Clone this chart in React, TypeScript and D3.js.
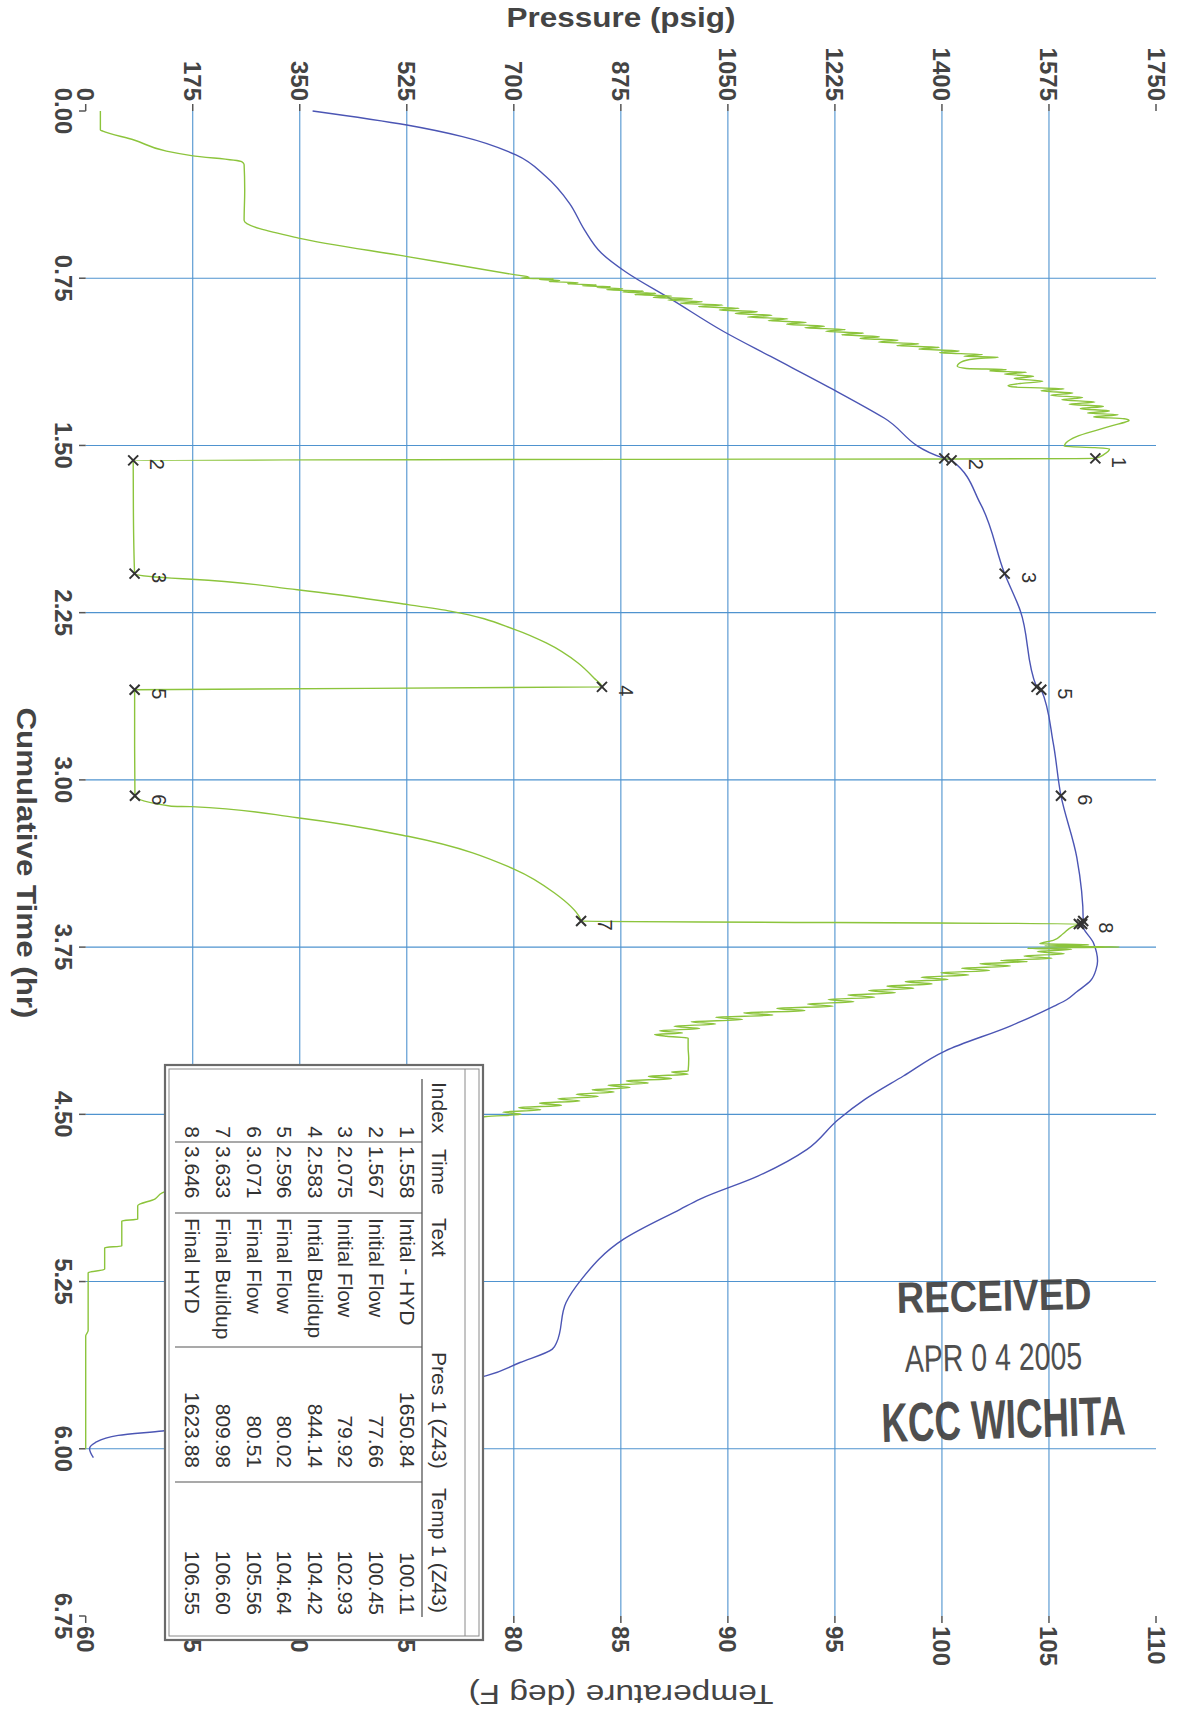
import React from 'react';
import * as d3 from 'd3';

// ---------- data ----------
const pressureTicks = [0, 175, 350, 525, 700, 875, 1050, 1225, 1400, 1575, 1750];
const tempTicks = [60, 65, 70, 75, 80, 85, 90, 95, 100, 105, 110];
const timeTicks = [0, 0.75, 1.5, 2.25, 3, 3.75, 4.5, 5.25, 6, 6.75];

// [cumulative time (hr), pressure (psig)]
const pressureSeries: [number, number][] = [
  [0, 24], [0.085, 24], [0.09, 28], [0.13, 79], [0.18, 132], [0.2, 173], [0.227, 255], [0.24, 259],
  [0.355, 260], [0.49, 259], [0.57, 348], [0.653, 526], [0.735, 703],
  [0.745, 725], [0.75, 712], [0.752, 765], [0.756, 742], [0.76, 775], [0.765, 758], [0.77, 805], [0.775, 788],
  [0.78, 835], [0.784, 812], [0.788, 858], [0.792, 836], [0.797, 878], [0.802, 852], [0.808, 912], [0.812, 878],
  [0.818, 932], [0.823, 898], [0.83, 958], [0.836, 928], [0.842, 992], [0.848, 952], [0.855, 1008], [0.862, 972],
  [0.87, 1042], [0.877, 1002], [0.885, 1068], [0.892, 1036], [0.9, 1098], [0.908, 1062], [0.916, 1122], [0.924, 1082],
  [0.932, 1148], [0.94, 1116], [0.948, 1178], [0.956, 1146], [0.965, 1208], [0.972, 1176], [0.98, 1242], [0.988, 1210],
  [0.996, 1272], [1.004, 1236], [1.012, 1298], [1.02, 1266], [1.028, 1328], [1.036, 1296], [1.044, 1362], [1.052, 1326],
  [1.06, 1396], [1.068, 1362], [1.076, 1428], [1.084, 1396], [1.092, 1466], [1.1, 1436], [1.104, 1492], [1.112, 1452],
  [1.125, 1432], [1.145, 1425], [1.155, 1440], [1.16, 1505], [1.166, 1478], [1.172, 1538], [1.18, 1502], [1.19, 1550],
  [1.2, 1518], [1.212, 1565], [1.222, 1528], [1.232, 1508], [1.238, 1520], [1.246, 1600], [1.255, 1562], [1.265, 1614],
  [1.275, 1578], [1.285, 1630], [1.295, 1596], [1.305, 1650], [1.315, 1608], [1.325, 1664], [1.335, 1626], [1.345, 1674],
  [1.355, 1638], [1.362, 1688], [1.372, 1648], [1.38, 1698], [1.388, 1706], [1.395, 1700], [1.41, 1680], [1.43, 1655],
  [1.46, 1620], [1.488, 1603], [1.504, 1600], [1.51, 1650], [1.515, 1674], [1.54, 1665], [1.558, 1650.84],
  [1.567, 77.66], [1.8, 78], [2.075, 79.92],
  [2.095, 140], [2.1, 173], [2.147, 346], [2.214, 527], [2.244, 598], [2.326, 702], [2.386, 753], [2.476, 805],
  [2.543, 831], [2.583, 844.14],
  [2.596, 80.02], [2.85, 80], [3.071, 80.51],
  [3.118, 140], [3.12, 173], [3.17, 346], [3.253, 527], [3.402, 702], [3.506, 766], [3.619, 808], [3.633, 809.98],
  [3.646, 1623.88], [3.66, 1612], [3.69, 1598], [3.72, 1582], [3.735, 1560], [3.74, 1640], [3.745, 1568],
  [3.75, 1690], [3.755, 1540], [3.76, 1612], [3.77, 1556], [3.78, 1600], [3.79, 1534], [3.8, 1580], [3.81, 1496],
  [3.815, 1540], [3.825, 1462], [3.835, 1512], [3.845, 1432], [3.855, 1478], [3.865, 1398], [3.875, 1444],
  [3.885, 1366], [3.895, 1410], [3.905, 1340], [3.915, 1384], [3.925, 1310], [3.935, 1354], [3.945, 1280],
  [3.955, 1324], [3.965, 1246], [3.975, 1290], [3.985, 1214], [3.995, 1256], [4.005, 1180], [4.015, 1222],
  [4.025, 1130], [4.035, 1176], [4.045, 1076], [4.055, 1124], [4.065, 1030], [4.075, 1074], [4.085, 990],
  [4.095, 1030], [4.105, 962], [4.115, 1004], [4.125, 938], [4.135, 976], [4.142, 930], [4.15, 950], [4.158, 985],
  [4.2, 985], [4.25, 986], [4.306, 985], [4.31, 958], [4.32, 985], [4.33, 920], [4.34, 958], [4.35, 884],
  [4.36, 920], [4.37, 854], [4.38, 890], [4.39, 828], [4.4, 864], [4.41, 802], [4.42, 838], [4.43, 772],
  [4.44, 808], [4.45, 742], [4.46, 778], [4.47, 708], [4.48, 744], [4.49, 682], [4.5, 712], [4.51, 655],
  [4.6, 520], [4.7, 360], [4.8, 200], [4.852, 125], [4.88, 113], [4.91, 85], [4.933, 85], [4.97, 85],
  [4.978, 59], [5.09, 59], [5.098, 31], [5.195, 31], [5.21, 4], [5.47, 4], [5.494, 0], [6.0, 0]
];

// [cumulative time (hr), temperature (deg F)]
const temperatureSeries: [number, number][] = [
  [0, 70.6], [0.063, 75.0], [0.115, 77.6], [0.197, 80.1], [0.294, 81.5], [0.414, 82.6], [0.533, 83.3],
  [0.638, 84.1], [0.72, 85.2], [0.847, 87.4], [0.989, 89.8], [1.101, 92.0], [1.243, 94.8], [1.377, 97.3],
  [1.558, 100.11], [1.567, 100.45], [1.762, 101.8], [2.075, 102.93], [2.241, 103.66], [2.583, 104.42],
  [2.596, 104.64], [2.835, 105.2], [3.071, 105.56], [3.348, 106.3], [3.633, 106.6], [3.646, 106.55],
  [3.732, 107.08], [3.812, 107.27], [3.85, 107.2], [3.9, 106.95], [3.95, 106.3], [3.985, 105.84],
  [4.015, 105.24], [4.104, 103.19], [4.216, 100.14], [4.328, 98.2], [4.433, 96.4], [4.523, 95.16],
  [4.657, 93.7], [4.777, 91.4], [4.88, 88.7], [4.926, 87.77], [5.06, 85.13], [5.24, 83.16], [5.344, 82.44],
  [5.523, 82.0], [5.553, 81.8], [5.613, 80.29], [5.673, 78.69], [5.75, 74], [5.85, 68], [5.92, 63.58],
  [5.94, 61.52], [5.972, 60.45], [6.0, 60.18], [6.04, 60.36]
];

const markIndex = [1, 2, 3, 4, 5, 6, 7, 8];
const markTime = [1.558, 1.567, 2.075, 2.583, 2.596, 3.071, 3.633, 3.646];
const markText = ['Intial - HYD', 'Initial Flow', 'Initial Flow', 'Intial Buildup', 'Final Flow', 'Final Flow', 'Final Buildup', 'Final HYD'];
const markPres = [1650.84, 77.66, 79.92, 844.14, 80.02, 80.51, 809.98, 1623.88];
const markTemp = [100.11, 100.45, 102.93, 104.42, 104.64, 105.56, 106.60, 106.55];
const presLabelled = [1, 2, 3, 4, 5, 6, 7];
const tempLabelled = [2, 3, 5, 6, 8];
const tableHeaders = ['Index', 'Time', 'Text', 'Pres 1 (Z43)', 'Temp 1 (Z43)'];

// ---------- layout ----------
const W = 1185, H = 1711;
const FONT = "'Liberation Sans', Arial, Helvetica, sans-serif";
const GRID = '#4f93cf';
const GREEN = '#8cc43c';
const BLUE = '#4b55b4';

const pX = d3.scaleLinear().domain([0, 1750]).range([85.7, 1156]);
const tempX = d3.scaleLinear().domain([60, 110]).range([85.7, 1156]);
const tY = d3.scaleLinear().domain([0, 6.75]).range([111, 1616]);

const presLine = d3.line<[number, number]>().x(d => pX(d[1])).y(d => tY(d[0])).curve(d3.curveMonotoneY);
const tempLine = d3.line<[number, number]>().x(d => tempX(d[1])).y(d => tY(d[0])).curve(d3.curveMonotoneY);

const f2 = d3.format('.2f');
const f3 = d3.format('.3f');

const XMark = ({ x, y }: { x: number; y: number }) => (
  <path d={`M${x - 5},${y - 5}L${x + 5},${y + 5}M${x - 5},${y + 5}L${x + 5},${y - 5}`} stroke="#333" strokeWidth={2} fill="none" />
);

export default function App() {
  const innerMinX = pX(0), innerMaxX = pX(1750);
  const tTop = tY(0), tBot = tY(6.75);

  // table geometry (local, rotated frame)
  const tblRight = 483, tblTop = 1065, tblW = 575, tblH = 318;
  const colSep = [77, 148, 282, 417];
  const headX = [17, 84, 153, 287, 423];
  const rowY = (i: number) => 76 + i * 30.6;

  return (
    <svg width={W} height={H} style={{ position: 'absolute', left: 0, top: 0, background: '#fff' }} fontFamily={FONT}>
      <rect x={0} y={0} width={W} height={H} fill="#fff" />

      {/* vertical grid (pressure) */}
      {pressureTicks.map(p => (
        <g key={'pg' + p}>
          {p !== 0 && p !== 1750 && (
            <line x1={pX(p)} x2={pX(p)} y1={tTop} y2={tBot} stroke={GRID} strokeWidth={1.1} />
          )}
          <line x1={pX(p)} x2={pX(p)} y1={104} y2={tTop} stroke="#555" strokeWidth={1.5} />
          <text x={pX(p)} y={101} transform={`rotate(90,${pX(p)},101)`} textAnchor="end" dominantBaseline="central"
            fontSize={24} fontWeight="bold" fill="#444">{p}</text>
        </g>
      ))}
      {/* temperature ticks (bottom) */}
      {tempTicks.map(t => (
        <g key={'tt' + t}>
          <line x1={tempX(t)} x2={tempX(t)} y1={tBot} y2={1623} stroke="#555" strokeWidth={1.5} />
          <text x={tempX(t)} y={1626} transform={`rotate(90,${tempX(t)},1626)`} textAnchor="start" dominantBaseline="central"
            fontSize={24} fontWeight="bold" fill="#444">{t}</text>
        </g>
      ))}
      {/* horizontal grid (time) */}
      {timeTicks.map(t => (
        <g key={'tg' + t}>
          {t !== 0 && t !== 6.75 && (
            <line x1={innerMinX} x2={innerMaxX} y1={tY(t)} y2={tY(t)} stroke={GRID} strokeWidth={1.1} />
          )}
          <line x1={79} x2={innerMinX} y1={tY(t)} y2={tY(t)} stroke="#555" strokeWidth={1.5} />
          <text x={63} y={tY(t)} transform={`rotate(90,63,${tY(t)})`} textAnchor="middle" dominantBaseline="central"
            fontSize={24} fontWeight="bold" fill="#444">{f2(t)}</text>
        </g>
      ))}

      {/* axis titles */}
      <text x={621} y={27} textAnchor="middle" fontSize={27} fontWeight="bold" fill="#444"
        textLength={229} lengthAdjust="spacingAndGlyphs">Pressure (psig)</text>
      <text x={26} y={863} transform="rotate(90,26,863)" textAnchor="middle" dominantBaseline="central"
        fontSize={27} fontWeight="bold" fill="#444" textLength={311} lengthAdjust="spacingAndGlyphs">Cumulative Time (hr)</text>
      <text x={621} y={1694} transform="rotate(180,621,1694)" textAnchor="middle" dominantBaseline="central"
        fontSize={27} fill="#444" textLength={305} lengthAdjust="spacingAndGlyphs">Temperature (deg F)</text>

      {/* series */}
      <path d={tempLine(temperatureSeries) || ''} fill="none" stroke={BLUE} strokeWidth={1.4} />
      <path d={presLine(pressureSeries) || ''} fill="none" stroke={GREEN} strokeWidth={1.4} />

      {/* markers */}
      {markIndex.map((k, i) => (
        <g key={'mp' + k}>
          <XMark x={pX(markPres[i])} y={tY(markTime[i])} />
          {presLabelled.includes(k) && (
            <text x={pX(markPres[i]) + 24} y={tY(markTime[i]) + 4} transform={`rotate(90,${pX(markPres[i]) + 24},${tY(markTime[i]) + 4})`}
              textAnchor="middle" dominantBaseline="central" fontSize={20} fill="#333">{k}</text>
          )}
        </g>
      ))}
      {markIndex.map((k, i) => (
        <g key={'mt' + k}>
          <XMark x={tempX(markTemp[i])} y={tY(markTime[i])} />
          {tempLabelled.includes(k) && (
            <text x={tempX(markTemp[i]) + 24} y={tY(markTime[i]) + 4} transform={`rotate(90,${tempX(markTemp[i]) + 24},${tY(markTime[i]) + 4})`}
              textAnchor="middle" dominantBaseline="central" fontSize={20} fill="#333">{k}</text>
          )}
        </g>
      ))}

      {/* table (rotated) */}
      <g transform={`translate(${tblRight},${tblTop}) rotate(90)`} fontSize={21} fill="#333">
        <rect x={0} y={0} width={tblW} height={tblH} fill="#fff" stroke="#6a6a6a" strokeWidth={2.2} />
        <rect x={4} y={4} width={tblW - 8} height={tblH - 8} fill="none" stroke="#8a8a8a" strokeWidth={1} />
        <line x1={4} x2={tblW - 4} y1={18} y2={18} stroke="#8a8a8a" strokeWidth={1} />
        <line x1={14} x2={552} y1={61} y2={61} stroke="#555" strokeWidth={1.3} />
        {colSep.map(c => (
          <line key={'cs' + c} x1={c} x2={c} y1={61} y2={308} stroke="#555" strokeWidth={1.1} />
        ))}
        {tableHeaders.map((h, j) => (
          <text key={'h' + j} x={headX[j]} y={44} dominantBaseline="central">{h}</text>
        ))}
        {markIndex.map((k, i) => (
          <g key={'row' + k}>
            <text x={73} y={rowY(i)} textAnchor="end" dominantBaseline="central">{k}</text>
            <text x={81} y={rowY(i)} dominantBaseline="central">{f3(markTime[i])}</text>
            <text x={153} y={rowY(i)} dominantBaseline="central">{markText[i]}</text>
            <text x={403} y={rowY(i)} textAnchor="end" dominantBaseline="central">{f2(markPres[i])}</text>
            <text x={550} y={rowY(i)} textAnchor="end" dominantBaseline="central">{f2(markTemp[i])}</text>
          </g>
        ))}
      </g>

      {/* received stamp */}
      <g fill="#3c3c3c" fontWeight="bold" opacity={0.9}>
        <text transform="translate(897,1313) rotate(-1.2) scale(0.867,1)" fontSize={44}>RECEIVED</text>
        <text transform="translate(905,1372) rotate(-1) scale(0.75,1)" fontSize={38} fontWeight="normal">APR 0 4 2005</text>
        <text transform="translate(882,1442) rotate(-1.8) scale(0.668,1)" fontSize={55}>KCC WICHITA</text>
      </g>
    </svg>
  );
}
